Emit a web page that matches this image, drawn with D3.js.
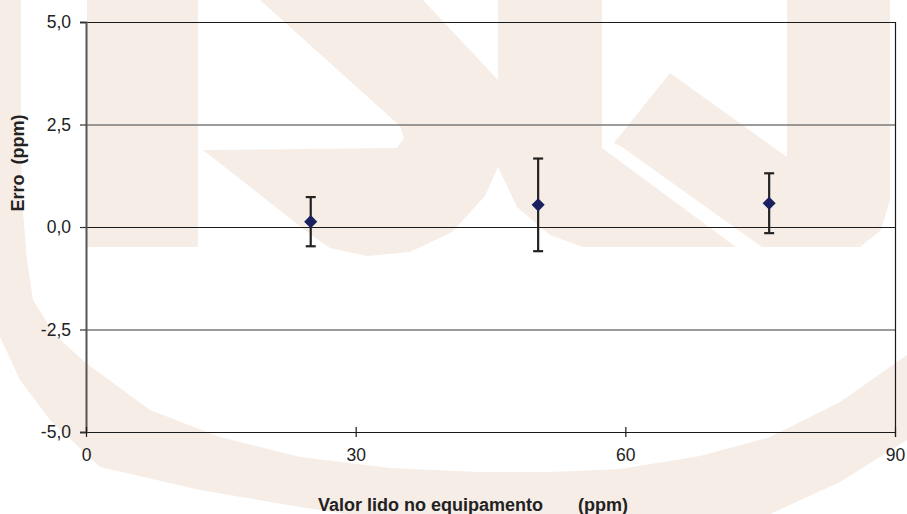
<!DOCTYPE html>
<html>
<head>
<meta charset="utf-8">
<script src="https://cdn.jsdelivr.net/npm/d3@7/dist/d3.min.js"></script>
<style>
  html, body { margin: 0; padding: 0; background: #ffffff; }
  svg { display: block; }
</style>
</head>
<body>
<svg id="chart" width="907" height="514"></svg>
<script>
// ---- data ----
const xValues   = [25.0, 50.3, 76.0];     // Valor lido no equipamento (ppm)
const yValues   = [0.13, 0.54, 0.58];     // Erro (ppm)
const errPlus   = [0.60, 1.13, 0.73];     // incerteza (+/-)
const xTicks    = [0, 30, 60, 90];
const yTicks    = [-5, -2.5, 0, 2.5, 5];
const xDomain   = [0, 90];
const yDomain   = [-5, 5];
const xTitle    = "Valor lido no equipamento";
const xUnit     = "(ppm)";
const yTitle    = "Erro  (ppm)";

// ---- layout ----
const W = 907, H = 514;
const plot = { left: 86, right: 895, top: 22, bottom: 432 };
const svg = d3.select("#chart");
const FONT = "'Liberation Sans', Arial, Helvetica, sans-serif";

// ---- background watermark (decorative logo, very pale) ----
const wm = "#f7ede7";
const wmg = svg.append("g").attr("fill", wm);
const shapes = [
  // large curved band (inner edge, then outer edge back)
  [[-10,0],[21,0],[21,120],[22,200],[27,260],[33,300],[55,335],[86,363],[150,410],[220,437],[300,457],[390,468],[480,472],[550,472],[620,469],[700,456],[770,437],[840,402],[907,355],
   [907,440],[840,482],[770,514],[760,530],[450,530],[300,507],[200,490],[100,467],[50,420],[20,380],[0,337],[-10,300]],
  // left stem
  [[87,0],[198,0],[198,247],[87,247]],
  // middle body
  [[260,0],[423,0],[498,80],[498,167],[485,196],[452,232],[410,252],[367,256],[330,248],[310,234],[203,150],[397,148],[404,138],[400,126]],
  // second stem
  [[498,0],[602,0],[602,148],[736,247],[583,247],[550,235],[517,207],[498,167]],
  // right part
  [[614,143],[670,73],[787,157],[787,0],[890,0],[890,200],[881,230],[860,247],[762,247],[622,147]]
];
const line = d3.line().curve(d3.curveLinearClosed);
shapes.forEach(s => wmg.append("path").attr("d", line(s)));

// ---- scales ----
const x = d3.scaleLinear().domain(xDomain).range([plot.left, plot.right]);
const y = d3.scaleLinear().domain(yDomain).range([plot.bottom, plot.top]);
const fmtY = v => d3.format(".1f")(v).replace(".", ",").replace("\u2212", "-");

// ---- horizontal grid lines ----
svg.append("g").selectAll("line").data(yTicks).join("line")
  .attr("x1", plot.left).attr("x2", plot.right)
  .attr("y1", d => y(d) + 0.5).attr("y2", d => y(d) + 0.5)
  .attr("stroke", d => (d === 2.5 || d === -2.5) ? "#7a7a7a" : "#1a1a1a")
  .attr("stroke-width", d => (d === 2.5 || d === -2.5) ? 1.6 : 1.2);

// right border
svg.append("line")
  .attr("x1", plot.right + 0.5).attr("x2", plot.right + 0.5)
  .attr("y1", plot.top).attr("y2", plot.bottom + 5)
  .attr("stroke", "#1a1a1a").attr("stroke-width", 1.2);

// ---- y axis ----
const yAxis = d3.axisLeft(y).tickValues(yTicks).tickFormat(fmtY).tickSize(6).tickPadding(9);
const gy = svg.append("g").attr("transform", `translate(${plot.left},0)`).call(yAxis);
gy.select(".domain").attr("stroke", "#555").attr("stroke-width", 2);
gy.selectAll(".tick line").attr("stroke", "#333").attr("stroke-width", 1.2);
gy.selectAll(".tick text").attr("font-family", FONT).attr("font-size", 17.5).attr("fill", "#222");

// ---- x axis ----
const xAxis = d3.axisBottom(x).tickValues(xTicks).tickFormat(d3.format("d")).tickSize(5).tickPadding(12);
const gx = svg.append("g").attr("transform", `translate(0,${plot.bottom})`).call(xAxis);
gx.select(".domain").remove();
gx.selectAll(".tick line").attr("y1", -5).attr("stroke", "#1a1a1a").attr("stroke-width", 1.2);
gx.selectAll(".tick text").attr("font-family", FONT).attr("font-size", 17.5).attr("fill", "#222");

// ---- error bars ----
const pts = xValues.map((v, i) => ({ x: v, y: yValues[i], e: errPlus[i] }));
const eb = svg.append("g").attr("stroke", "#222").attr("stroke-width", 2.2).attr("fill", "none");
eb.selectAll("line.v").data(pts).join("line").attr("class", "v")
  .attr("x1", d => x(d.x)).attr("x2", d => x(d.x))
  .attr("y1", d => y(d.y + d.e)).attr("y2", d => y(d.y - d.e));
eb.selectAll("line.t").data(pts).join("line").attr("class", "t")
  .attr("x1", d => x(d.x) - 5).attr("x2", d => x(d.x) + 5)
  .attr("y1", d => y(d.y + d.e)).attr("y2", d => y(d.y + d.e));
eb.selectAll("line.b").data(pts).join("line").attr("class", "b")
  .attr("x1", d => x(d.x) - 5).attr("x2", d => x(d.x) + 5)
  .attr("y1", d => y(d.y - d.e)).attr("y2", d => y(d.y - d.e));

// ---- diamond markers ----
const diamond = d3.symbol().type(d3.symbolSquare).size(86);
svg.append("g").selectAll("path").data(pts).join("path")
  .attr("d", diamond)
  .attr("transform", d => `translate(${x(d.x)},${y(d.y)}) rotate(45)`)
  .attr("fill", "#1b2160");

// ---- titles ----
svg.append("text")
  .attr("transform", `translate(24,${(plot.top + plot.bottom) / 2 - 64}) rotate(-90)`)
  .attr("text-anchor", "middle")
  .attr("font-family", FONT).attr("font-size", 18).attr("font-weight", "bold").attr("fill", "#222")
  .style("white-space", "pre")
  .text(yTitle);

svg.append("text")
  .attr("x", 318).attr("y", 511)
  .attr("font-family", FONT).attr("font-size", 18).attr("font-weight", "bold").attr("fill", "#222")
  .text(xTitle);
svg.append("text")
  .attr("x", 578).attr("y", 511)
  .attr("font-family", FONT).attr("font-size", 18).attr("font-weight", "bold").attr("fill", "#222")
  .text(xUnit);
</script>
</body>
</html>
